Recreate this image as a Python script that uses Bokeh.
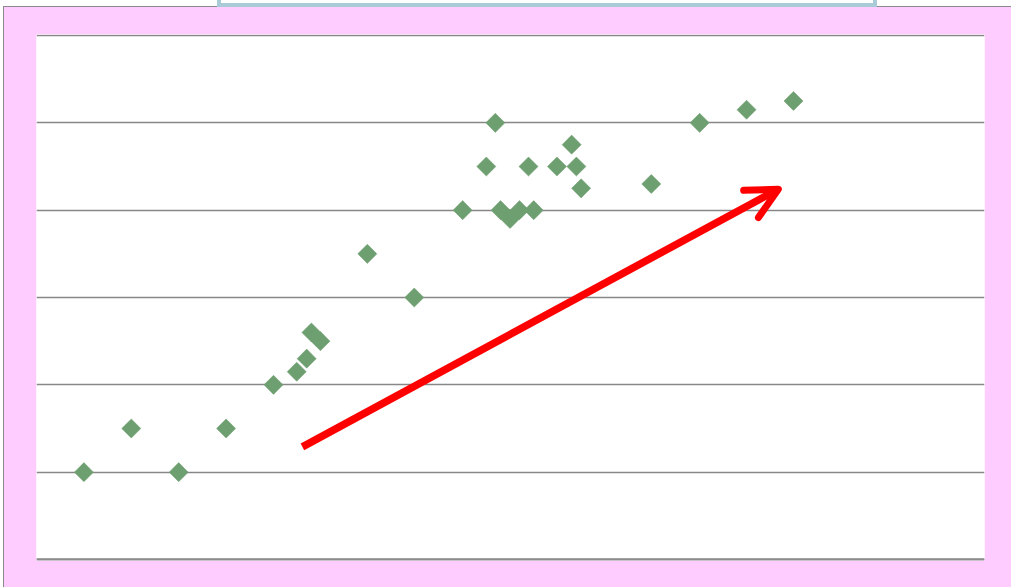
import math
from bokeh.plotting import figure
from bokeh.models import Arrow, OpenHead, FixedTicker, Range1d, Span
from bokeh.embed import file_html
from bokeh.resources import INLINE

# data
x_vals = [1.0, 2.0, 3.0, 4.0, 5.0, 5.49, 5.70, 5.80, 5.99, 6.98, 7.97,
          8.99, 9.49, 9.68, 9.79, 9.99, 10.19, 10.38, 10.49, 10.98, 11.29,
          11.39, 11.49, 12.97, 13.99, 14.98, 15.97]
y_vals = [1.0, 1.5, 1.0, 1.5, 2.0, 2.15, 2.3, 2.6, 2.5, 3.5, 3.0,
          4.0, 4.5, 5.0, 4.0, 3.9, 4.0, 4.5, 4.0, 4.5, 4.75,
          4.5, 4.25, 4.3, 5.0, 5.15, 5.25]
y_ticks = [0, 1, 2, 3, 4, 5, 6]
arrow_start = (5.61, 1.29)
arrow_end = (15.65, 4.24)

css = """
:host { position: relative; box-shadow: 0 0 0 8px #ffccff; }
:host::after {
  content: ""; position: absolute; left: 0; top: 0; right: -8px; bottom: -8px;
  border-left: 3px solid #ffffff; border-top: 6px solid #ffffff;
  box-shadow: inset 1px 1px 0 0 #8a8a8a;
  pointer-events: none; z-index: 5;
}
:host::before {
  content: ""; position: absolute; left: 217px; top: -10px; width: 660px; height: 17px;
  box-sizing: border-box; border: 4px solid #a9cbd8; background: #ffffff;
  pointer-events: none; z-index: 6;
}
"""

px_unit = 1.0 / 87.33  # one pixel in y units, to keep edge gridlines visible

p = figure(width=1003, height=579, output_backend="svg", toolbar_location=None,
           x_range=Range1d(0, 20), y_range=Range1d(-px_unit, 6 + px_unit),
           min_border_left=36, min_border_right=19, min_border_top=34, min_border_bottom=19,
           border_fill_color="#ffccff", background_fill_color="#ffffff",
           outline_line_color=None, stylesheets=[css])

p.xaxis.visible = False
p.yaxis.visible = False
p.xgrid.visible = False
p.ygrid.ticker = FixedTicker(ticks=y_ticks)
p.ygrid.grid_line_color = "#878787"
p.ygrid.grid_line_width = 1.6

p.add_layout(Span(location=y_ticks[0], dimension="width", line_color="#8c8c8c", line_width=2.5))

p.scatter(x_vals, y_vals, marker="square", size=13.5, angle=math.pi / 4,
          fill_color="#6e9f70", line_color="#6e9f70", line_width=0.5)

p.add_layout(Arrow(x_start=arrow_start[0], y_start=arrow_start[1],
                   x_end=arrow_end[0], y_end=arrow_end[1],
                   line_color="#ff0000", line_width=7.5,
                   end=OpenHead(size=31, line_color="#ff0000", line_width=7,
                                line_cap="round", line_join="round")))

open("out.html", "w").write(file_html(p, INLINE))
